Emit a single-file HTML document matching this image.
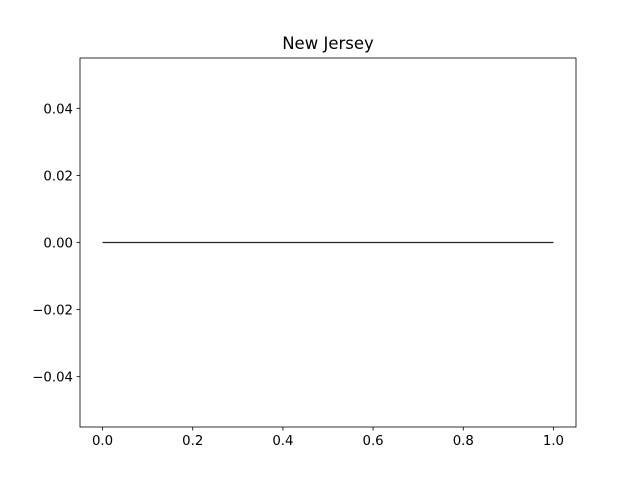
<!DOCTYPE html>
<html><head><meta charset="utf-8"><style>
body{margin:0;background:#fff}
svg text{font-family:"DejaVu Sans","Liberation Sans",sans-serif;font-size:13.3px;fill:#000}
svg text.title{font-size:16.5px}
</style></head><body>
<svg width="640" height="480">
<rect width="640" height="480" fill="#fff"/>
<g id="plot"></g>
<text class="title" x="328" y="49" text-anchor="middle">New Jersey</text>
</svg>
<script>
const xTicks=[0.0,0.2,0.4,0.6,0.8,1.0];
const yTicks=[-0.04,-0.02,0.00,0.02,0.04];
const yTickLabels=["\u22120.04","\u22120.02","0.00","0.02","0.04"];
const xValues=[0,1];
const yValues=[0,0];
const L=80,R=576,T=58,B=427;
const xMin=-0.05,xMax=1.05,yMin=-0.055,yMax=0.055;
function sx(v){return L+(v-xMin)/(xMax-xMin)*(R-L);}
function sy(v){return B-(v-yMin)/(yMax-yMin)*(B-T);}
const ns="http://www.w3.org/2000/svg";
const g=document.getElementById('plot');
function mk(t,a){const e=document.createElementNS(ns,t);for(const k in a)e.setAttribute(k,a[k]);g.appendChild(e);return e;}
const pts=xValues.map((x,i)=>sx(x)+','+sy(yValues[i])).join(' ');
const line=mk('polyline',{points:pts,fill:'none',stroke:'#222','stroke-width':1.3});


xTicks.forEach(v=>{
 const x=sx(v);
 const t=mk('line',{x1:x,x2:x,y1:B,y2:B+3.5,stroke:'#000','stroke-width':0.8});
 
 
 const l=mk('text',{x:x,y:B+18,'text-anchor':'middle'});l.textContent=v.toFixed(1);
 
 
});
yTicks.forEach((v,i)=>{
 const y=sy(v);
 const t=mk('line',{x1:L-3.5,x2:L,y1:y,y2:y,stroke:'#000','stroke-width':0.8});
 
 
 const l=mk('text',{x:L-7,y:y+5,'text-anchor':'end'});l.textContent=yTickLabels[i];
 
 
});
const fr=mk('rect',{x:L,y:T,width:R-L,height:B-T,fill:'none',stroke:'#000','stroke-width':0.8});


</script>
</body></html>
